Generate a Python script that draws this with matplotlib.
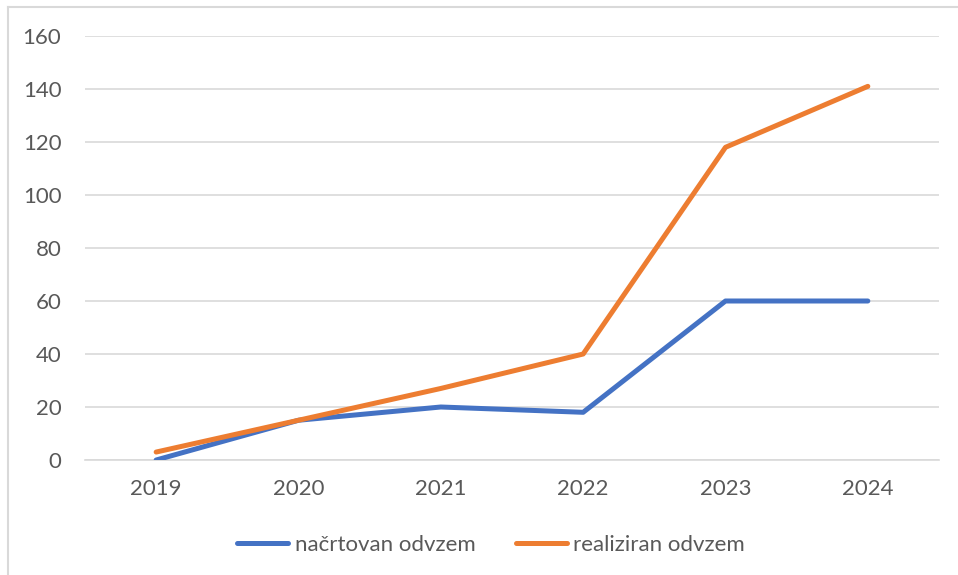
import matplotlib
matplotlib.use("Agg")
import matplotlib.pyplot as plt
from matplotlib.lines import Line2D

years = ["2019", "2020", "2021", "2022", "2023", "2024"]
planned = [0, 15, 20, 18, 60, 60]
realized = [3, 15, 27, 40, 118, 141]
yticks = [0, 20, 40, 60, 80, 100, 120, 140, 160]

plt.rcParams["font.family"] = ["Lato", "DejaVu Sans"]
text_color = "#595959"

fig = plt.figure(figsize=(9.58, 5.75), dpi=100)
ax = fig.add_axes([85 / 958, 115 / 575, 854 / 958, 424 / 575])

x = list(range(len(years)))
ax.plot(x, planned, color="#4472C4", linewidth=3.6, solid_capstyle="round",
        solid_joinstyle="round", label="načrtovan odvzem", zorder=3)
ax.plot(x, realized, color="#ED7D31", linewidth=3.6, solid_capstyle="round",
        solid_joinstyle="round", label="realiziran odvzem", zorder=3)

ax.set_xlim(-0.5, len(years) - 0.5)
ax.set_ylim(0, 160)
ax.set_yticks(yticks)
ax.set_xticks(x)
ax.set_xticklabels(years)
ax.grid(axis="y", color="#D9D9D9", linewidth=1.2)
ax.set_axisbelow(True)
for s in ["top", "right", "left"]:
    ax.spines[s].set_visible(False)
ax.spines["bottom"].set_color("#D9D9D9")
ax.spines["bottom"].set_linewidth(1.2)
ax.tick_params(axis="both", length=0, labelsize=16, colors=text_color)
ax.tick_params(axis="y", pad=17)
ax.tick_params(axis="x", pad=14)

leg = fig.legend(loc="center", bbox_to_anchor=(491 / 958, 1 - 545 / 575), ncol=2,
                 frameon=False, fontsize=16, handlelength=2.3, handletextpad=0.3,
                 columnspacing=1.8)
for t in leg.get_texts():
    t.set_color(text_color)

# chart border (top and left visible in the crop)
fig.add_artist(Line2D([8 / 958, 8 / 958], [0, 1 - 7 / 575], color="#D9D9D9",
                      linewidth=1.5, transform=fig.transFigure))
fig.add_artist(Line2D([8 / 958, 1], [1 - 7 / 575, 1 - 7 / 575], color="#D9D9D9",
                      linewidth=1.5, transform=fig.transFigure))

fig.savefig("out.png", dpi=100)
